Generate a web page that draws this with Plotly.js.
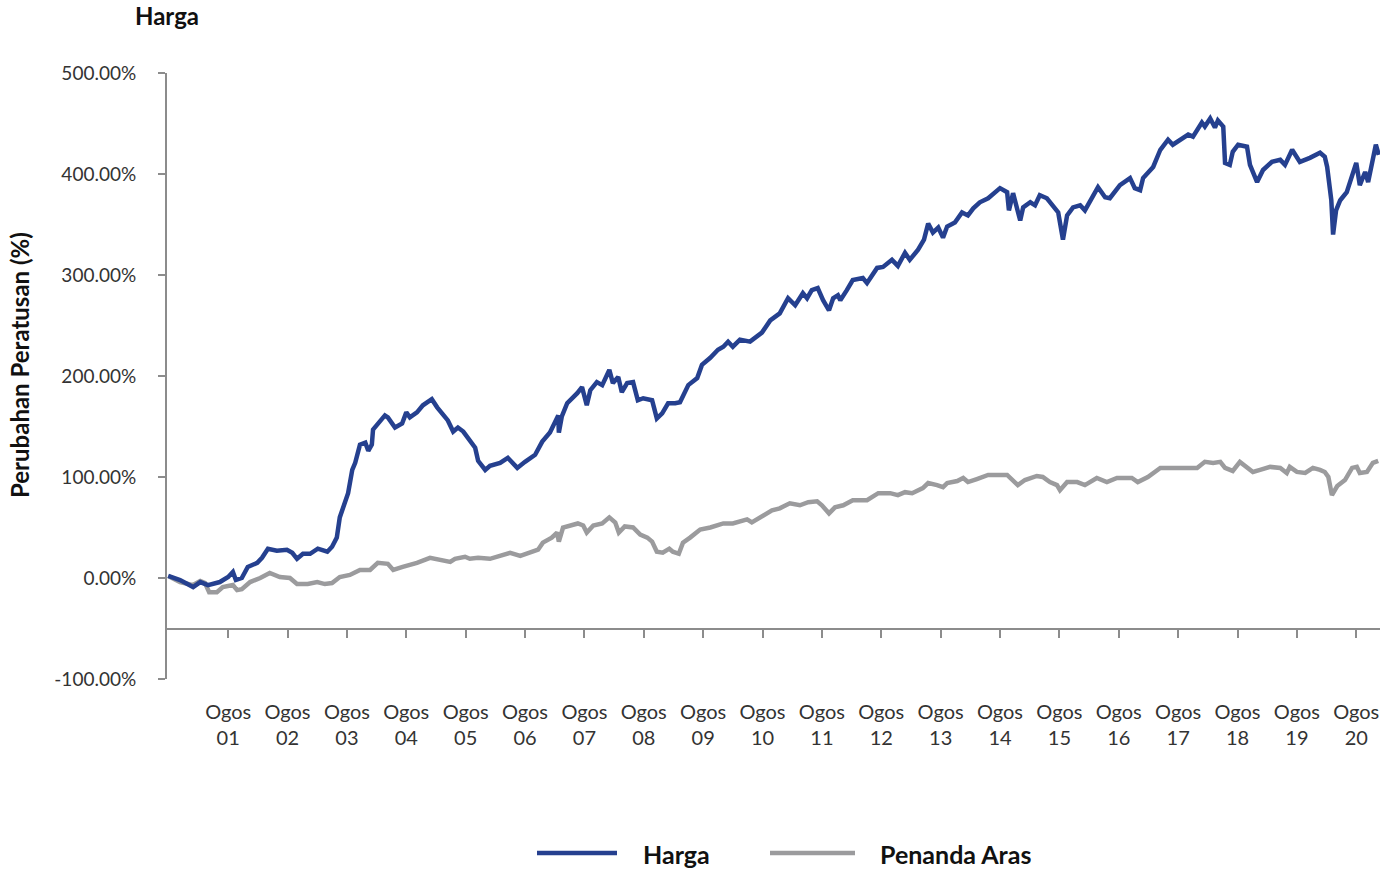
<!DOCTYPE html>
<html>
<head>
<meta charset="utf-8">
<script src="https://cdn.plot.ly/plotly-3.0.1.min.js"></script>
<style>html,body{margin:0;padding:0;background:#fff;}#chart{width:1397px;height:870px;}</style>
</head>
<body>
<div id="chart"></div>
<script>
// Time in decimal years, values in percent change
const hargaT = [2000.57,2000.77,2000.99,2001.11,2001.24,2001.44,2001.58,2001.66,2001.71,2001.81,2001.91,2002.07,2002.15,2002.25,2002.40,2002.57,2002.66,2002.74,2002.84,2002.96,2003.09,2003.25,2003.33,2003.41,2003.46,2003.55,2003.60,2003.67,2003.72,2003.80,2003.89,2003.94,2004.00,2004.02,2004.14,2004.22,2004.27,2004.39,2004.51,2004.58,2004.64,2004.76,2004.86,2005.01,2005.10,2005.20,2005.28,2005.37,2005.45,2005.54,2005.65,2005.74,2005.79,2005.91,2005.99,2006.16,2006.29,2006.45,2006.58,2006.75,2006.87,2007.00,2007.14,2007.15,2007.20,2007.29,2007.46,2007.54,2007.62,2007.68,2007.79,2007.88,2008.00,2008.06,2008.15,2008.21,2008.30,2008.40,2008.48,2008.57,2008.72,2008.80,2008.89,2008.99,2009.11,2009.19,2009.33,2009.48,2009.56,2009.70,2009.83,2009.92,2010.00,2010.08,2010.20,2010.37,2010.57,2010.71,2010.87,2011.01,2011.13,2011.26,2011.33,2011.41,2011.51,2011.60,2011.70,2011.77,2011.85,2011.89,2012.00,2012.10,2012.27,2012.34,2012.51,2012.61,2012.76,2012.86,2012.98,2013.06,2013.20,2013.30,2013.37,2013.45,2013.54,2013.62,2013.69,2013.82,2013.94,2014.04,2014.13,2014.24,2014.38,2014.58,2014.70,2014.73,2014.80,2014.92,2014.97,2015.09,2015.17,2015.25,2015.37,2015.47,2015.56,2015.64,2015.71,2015.81,2015.93,2016.01,2016.10,2016.23,2016.35,2016.43,2016.60,2016.77,2016.85,2016.94,2016.99,2017.16,2017.28,2017.41,2017.49,2017.61,2017.75,2017.83,2017.98,2018.03,2018.12,2018.20,2018.25,2018.34,2018.37,2018.45,2018.50,2018.59,2018.74,2018.79,2018.91,2019.01,2019.16,2019.30,2019.38,2019.50,2019.63,2019.80,2019.97,2020.05,2020.09,2020.16,2020.19,2020.24,2020.31,2020.42,2020.48,2020.58,2020.64,2020.73,2020.78,2020.86,2020.91,2020.96];
const hargaV = [2,-2,-9,-4,-7,-4,1,6,-2,0,11,15,20,29,27,28,25,19,24,24,29,26,31,40,60,77,84,107,114,132,134,126,132,147,156,161,159,149,153,164,159,164,171,177,169,161,156,145,149,145,137,129,116,107,111,114,119,109,115,122,135,144,161,144,160,173,183,189,171,186,194,191,206,193,199,184,193,194,176,178,176,158,163,173,173,174,191,198,211,218,226,229,234,229,236,234,243,255,262,277,270,282,277,285,287,275,265,277,280,275,285,295,297,292,307,308,315,309,322,315,325,335,351,342,347,337,348,352,362,359,366,372,376,386,382,364,381,354,367,372,369,379,376,369,362,335,359,367,369,364,374,387,377,376,389,396,386,384,396,407,424,434,429,434,439,437,451,447,455,446,453,447,411,409,422,429,427,409,392,404,412,414,409,424,412,416,421,417,407,374,340,364,374,382,394,411,389,402,392,412,429,419];

const penandaT = [2000.57,2000.77,2000.99,2001.11,2001.19,2001.26,2001.39,2001.49,2001.66,2001.73,2001.81,2001.95,2002.12,2002.28,2002.45,2002.62,2002.74,2002.92,2003.08,2003.21,2003.33,2003.46,2003.63,2003.80,2003.97,2004.10,2004.27,2004.36,2004.52,2004.76,2004.98,2005.20,2005.32,2005.40,2005.57,2005.65,2005.79,2005.99,2006.19,2006.33,2006.50,2006.66,2006.80,2006.88,2007.03,2007.12,2007.15,2007.22,2007.34,2007.47,2007.56,2007.62,2007.73,2007.88,2008.00,2008.10,2008.16,2008.26,2008.40,2008.52,2008.64,2008.72,2008.80,2008.90,2009.01,2009.07,2009.17,2009.24,2009.36,2009.53,2009.70,2009.92,2010.08,2010.32,2010.40,2010.59,2010.74,2010.87,2011.04,2011.21,2011.35,2011.50,2011.58,2011.70,2011.80,2011.94,2012.10,2012.34,2012.53,2012.73,2012.86,2012.98,2013.10,2013.28,2013.37,2013.52,2013.62,2013.69,2013.86,2013.96,2014.04,2014.19,2014.38,2014.70,2014.75,2014.88,2015.00,2015.20,2015.30,2015.42,2015.54,2015.59,2015.71,2015.88,2016.01,2016.10,2016.21,2016.38,2016.55,2016.80,2016.90,2017.07,2017.28,2017.90,2018.03,2018.17,2018.29,2018.37,2018.50,2018.62,2018.74,2018.84,2018.96,2019.13,2019.30,2019.41,2019.46,2019.58,2019.72,2019.85,2019.97,2020.05,2020.11,2020.17,2020.26,2020.39,2020.51,2020.59,2020.64,2020.76,2020.86,2020.95];
const penandaV = [2,-4,-7,-3,-5,-14,-14,-9,-7,-12,-11,-4,0,5,1,0,-6,-6,-4,-6,-5,1,3,8,8,15,14,8,11,15,20,18,16,19,21,19,20,19,22,25,22,25,28,35,40,45,36,50,52,54,52,45,52,54,60,55,45,51,50,43,40,36,26,25,29,26,24,35,40,48,50,54,54,58,55,61,67,69,74,72,75,76,72,64,70,72,77,77,84,84,82,85,84,89,94,92,90,94,96,99,95,98,102,102,99,92,97,101,100,95,92,87,95,95,92,95,99,95,99,99,95,100,109,109,115,114,115,109,106,115,110,105,107,110,109,104,110,105,104,109,107,105,100,82,91,97,109,110,104,105,114,116];

const tickYears = [2001,2002,2003,2004,2005,2006,2007,2008,2009,2010,2011,2012,2013,2014,2015,2016,2017,2018,2019,2020];
const yTicks = [-100,0,100,200,300,400,500];
const seriesNames = ['Harga','Penanda Aras'];
const chartTitle = 'Harga';
const yTitle = 'Perubahan Peratusan (%)';

const BLUE = '#25408f';
const GREY = '#9b9b9d';
const FONT = 'Lato, "Open Sans", sans-serif';

const tickVals = tickYears.map(y => y + 0.58);
const tickText = tickYears.map(y => 'Ogos<br>' + String(y).slice(2));

const traces = [
  {x: penandaT, y: penandaV, type: 'scatter', mode: 'lines', name: seriesNames[1],
   line: {color: GREY, width: 4.5}, showlegend: false, hoverinfo: 'skip'},
  {x: hargaT, y: hargaV, type: 'scatter', mode: 'lines', name: seriesNames[0],
   line: {color: BLUE, width: 4.5}, showlegend: false, hoverinfo: 'skip'}
];

// plot area in px: x 167..1380, y 73..679
const PL = 167, PW = 1213, PT = 73, PH = 606;
const px = v => (v - PL) / PW;
const py = v => (PT + PH - v) / PH;

const layout = {
  width: 1397, height: 870,
  margin: {l: PL, r: 1397 - PL - PW, t: PT, b: 870 - PT - PH},
  paper_bgcolor: '#fff', plot_bgcolor: '#fff',
  font: {family: FONT, color: '#333', size: 19},
  showlegend: false,
  title: {text: '<b>' + chartTitle + '</b>', xref: 'container', yref: 'container',
          x: 135/1397, xanchor: 'left', y: 1 - 17/870, yanchor: 'middle',
          font: {family: FONT, size: 24, color: '#111'}},
  xaxis: {
    range: [2000.55, 2020.98], type: 'linear',
    anchor: 'free', position: 50/600,
    showgrid: false, zeroline: false,
    showline: true, linecolor: '#8c8c8c', linewidth: 2,
    ticks: 'outside', ticklen: 8, tickwidth: 2, tickcolor: '#8c8c8c',
    tickmode: 'array', tickvals: tickVals, ticktext: tickText,
    ticklabelstandoff: 57,
    tickfont: {family: FONT, size: 20, color: '#333'}
  },
  yaxis: {
    range: [-100, 500],
    showgrid: false, zeroline: false,
    showline: true, linecolor: '#8c8c8c', linewidth: 2,
    ticks: 'outside', ticklen: 7, tickwidth: 2, tickcolor: '#8c8c8c',
    tickmode: 'array', tickvals: yTicks, ticktext: yTicks.map(v => v.toFixed(2) + '%'),
    ticklabelstandoff: 18,
    tickfont: {family: FONT, size: 19, color: '#333'}
  },
  shapes: [
    {type: 'line', xref: 'paper', yref: 'paper', x0: px(537), x1: px(617), y0: py(853), y1: py(853),
     line: {color: BLUE, width: 4.5}},
    {type: 'line', xref: 'paper', yref: 'paper', x0: px(770), x1: px(855), y0: py(853), y1: py(853),
     line: {color: GREY, width: 4.5}}
  ],
  annotations: [
    {xref: 'paper', yref: 'paper', x: px(20), y: py(365), xanchor: 'center', yanchor: 'middle',
     textangle: -90, showarrow: false, text: '<b>' + yTitle + '</b>',
     font: {family: FONT, size: 24, color: '#111'}},
    {xref: 'paper', yref: 'paper', x: px(641), y: py(854), xanchor: 'left', yanchor: 'middle',
     showarrow: false, text: '<b>' + seriesNames[0] + '</b>', font: {family: FONT, size: 25, color: '#111'}},
    {xref: 'paper', yref: 'paper', x: px(878), y: py(854), xanchor: 'left', yanchor: 'middle',
     showarrow: false, text: '<b>' + seriesNames[1] + '</b>', font: {family: FONT, size: 25, color: '#111'}}
  ]
};

Plotly.newPlot('chart', traces, layout, {displayModeBar: false, staticPlot: true});
</script>
</body>
</html>
